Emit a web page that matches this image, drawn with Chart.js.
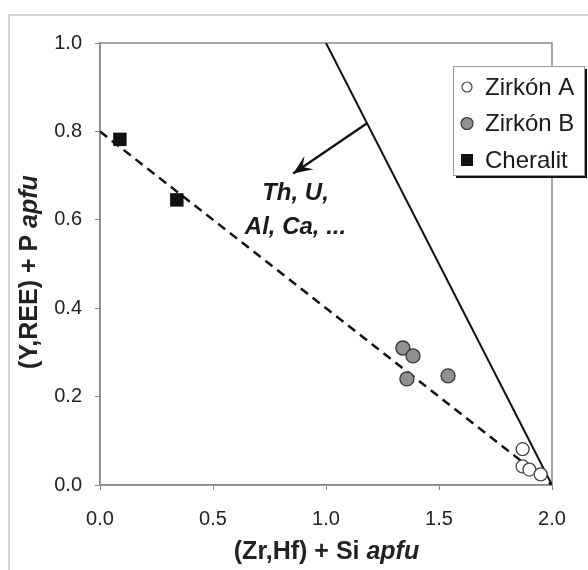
<!DOCTYPE html>
<html><head><meta charset="utf-8">
<script src="https://cdn.jsdelivr.net/npm/chart.js@4/dist/chart.umd.min.js"></script>
<style>html,body{margin:0;padding:0;background:#fff;}#wrap{width:588px;height:570px;}</style>
</head><body><div id="wrap"><canvas id="c" width="588" height="570"></canvas></div>
<script>
// ---- data ----
const zirkonA_x = [1.87, 1.87, 1.90, 1.95];
const zirkonA_y = [0.081, 0.042, 0.035, 0.024];
const zirkonB_x = [1.34, 1.385, 1.358, 1.54];
const zirkonB_y = [0.31, 0.292, 0.24, 0.247];
const cheralit_x = [0.088, 0.34];
const cheralit_y = [0.782, 0.645];
const dashedLine_x = [0.0, 2.0];
const dashedLine_y = [0.8, 0.0];
const solidLine_x = [1.0, 2.0];
const solidLine_y = [1.0, 0.0];
const arrow_x = [1.18, 0.855];
const arrow_y = [0.818, 0.705];
const xTicks = [0.0, 0.5, 1.0, 1.5, 2.0];
const yTicks = [0.0, 0.2, 0.4, 0.6, 0.8, 1.0];
const seriesLabels = ['Zirkón A', 'Zirkón B', 'Cheralit'];
const annotationLines = ['Th, U,', 'Al, Ca, ...'];
const annotation_x = [0.865, 0.865];
const annotation_y = [0.66, 0.582];
const xTitle = ['(Zr,Hf) + Si ', 'apfu'];
const yTitle = ['(Y,REE) + P ', 'apfu'];

const pts = (xs, ys) => xs.map((x, i) => ({x, y: ys[i]}));
const FONT = '"Liberation Sans", Arial, sans-serif';

const framePlugin = {
  id: 'frame',
  beforeDraw(chart) {
    const ctx = chart.ctx;
    ctx.save();
    ctx.fillStyle = '#fff';
    ctx.fillRect(0, 0, chart.width, chart.height);
    ctx.strokeStyle = '#d4d4d4';
    ctx.lineWidth = 2;
    ctx.strokeRect(9, 15, 700, 700);
    ctx.restore();
  },
  beforeDatasetsDraw(chart) {
    const {ctx, chartArea: a} = chart;
    ctx.save();
    ctx.strokeStyle = '#8a8a8a';
    ctx.lineWidth = 1.5;
    ctx.strokeRect(a.left, a.top, a.right - a.left, a.bottom - a.top);
    ctx.restore();
  },
  afterDraw(chart) {
    const ctx = chart.ctx;
    const xs = chart.scales.x, ys = chart.scales.y;
    ctx.save();
    // arrow head
    const x1 = xs.getPixelForValue(arrow_x[0]), y1 = ys.getPixelForValue(arrow_y[0]);
    const x2 = xs.getPixelForValue(arrow_x[1]), y2 = ys.getPixelForValue(arrow_y[1]);
    const ang = Math.atan2(y2 - y1, x2 - x1);
    const L = 19, W = 8;
    ctx.fillStyle = '#111';
    ctx.beginPath();
    ctx.moveTo(x2, y2);
    ctx.lineTo(x2 - L * Math.cos(ang) + W * Math.sin(ang), y2 - L * Math.sin(ang) - W * Math.cos(ang));
    ctx.lineTo(x2 - 0.6 * L * Math.cos(ang), y2 - 0.6 * L * Math.sin(ang));
    ctx.lineTo(x2 - L * Math.cos(ang) - W * Math.sin(ang), y2 - L * Math.sin(ang) + W * Math.cos(ang));
    ctx.closePath();
    ctx.fill();
    // annotation
    ctx.font = 'italic bold 24px ' + FONT;
    ctx.fillStyle = '#1a1a1a';
    ctx.textAlign = 'center';
    ctx.textBaseline = 'middle';
    annotationLines.forEach((t, i) => {
      ctx.fillText(t, xs.getPixelForValue(annotation_x[i]), ys.getPixelForValue(annotation_y[i]));
    });
    // axis titles
    const drawMixed = (parts, cx, cy, size) => {
      ctx.font = 'bold ' + size + 'px ' + FONT;
      const w1 = ctx.measureText(parts[0]).width;
      ctx.font = 'italic bold ' + size + 'px ' + FONT;
      const w2 = ctx.measureText(parts[1]).width;
      const start = cx - (w1 + w2) / 2;
      ctx.textAlign = 'left';
      ctx.textBaseline = 'middle';
      ctx.font = 'bold ' + size + 'px ' + FONT;
      ctx.fillText(parts[0], start, cy);
      ctx.font = 'italic bold ' + size + 'px ' + FONT;
      ctx.fillText(parts[1], start + w1, cy);
    };
    ctx.fillStyle = '#222';
    drawMixed(xTitle, (chart.chartArea.left + chart.chartArea.right) / 2 + 0.5, 552, 25);
    ctx.save();
    ctx.translate(30, 272);
    ctx.rotate(-Math.PI / 2);
    drawMixed(yTitle, 0, 0, 25);
    ctx.restore();
    // legend
    const lx = 453, ly = 66, lw = 131, lh = 109;
    ctx.fillStyle = '#111';
    ctx.fillRect(lx + 3, ly + lh, lw, 3);
    ctx.fillRect(lx + lw, ly + 3, 3, lh);
    ctx.fillStyle = '#fff';
    ctx.fillRect(lx, ly, lw, lh);
    ctx.strokeStyle = '#9a9a9a';
    ctx.lineWidth = 1;
    ctx.strokeRect(lx + 0.5, ly + 0.5, lw, lh);
    const items = chart.data.datasets.filter(d => d.inLegend);
    items.forEach((d, i) => {
      const cy = ly + 21 + i * 36.5;
      const mx = lx + 14;
      ctx.beginPath();
      if (d.pointStyle === 'rect') {
        ctx.fillStyle = d.backgroundColor;
        ctx.fillRect(mx - 6, cy - 6, 12, 12);
      } else {
        ctx.arc(mx, cy, i === 0 ? 5 : 6, 0, Math.PI * 2);
        ctx.fillStyle = d.backgroundColor;
        ctx.fill();
        ctx.strokeStyle = d.borderColor;
        ctx.lineWidth = 1.2;
        ctx.stroke();
      }
      ctx.fillStyle = '#1a1a1a';
      ctx.font = '24px ' + FONT;
      ctx.textAlign = 'left';
      ctx.textBaseline = 'middle';
      ctx.fillText(d.label, lx + 32, cy + 1);
    });
    ctx.restore();
  }
};

new Chart(document.getElementById('c'), {
  type: 'scatter',
  data: {
    datasets: [
      {label: 'dashed', data: pts(dashedLine_x, dashedLine_y), showLine: true, borderColor: '#111', borderWidth: 2.5, borderDash: [9, 6], pointRadius: 0, order: 5},
      {label: 'solid', data: pts(solidLine_x, solidLine_y), showLine: true, borderColor: '#111', borderWidth: 2, pointRadius: 0, order: 5},
      {label: 'arrow', data: pts(arrow_x, arrow_y), showLine: true, borderColor: '#111', borderWidth: 2.4, pointRadius: 0, order: 5},
      {label: seriesLabels[0], inLegend: true, data: pts(zirkonA_x, zirkonA_y), pointStyle: 'circle', pointRadius: 6.5, backgroundColor: '#ffffff', borderColor: '#444', pointBorderWidth: 1.3, order: 1},
      {label: seriesLabels[1], inLegend: true, data: pts(zirkonB_x, zirkonB_y), pointStyle: 'circle', pointRadius: 7, backgroundColor: '#909090', borderColor: '#333', pointBorderWidth: 1.3, order: 1},
      {label: seriesLabels[2], inLegend: true, data: pts(cheralit_x, cheralit_y), pointStyle: 'rect', pointRadius: 9.5, backgroundColor: '#111', borderColor: '#111', pointBorderWidth: 0, order: 1}
    ]
  },
  options: {
    responsive: false,
    animation: false,
    devicePixelRatio: 1,
    layout: {padding: {left: 0, top: 43, right: 36, bottom: 0}},
    plugins: {legend: {display: false}, tooltip: {enabled: false}},
    scales: {
      x: {
        type: 'linear', min: 0, max: 2,
        afterFit: s => { s.height = 85; },
        afterBuildTicks: s => { s.ticks = xTicks.map(v => ({value: v})); },
        ticks: {font: {family: FONT, size: 20}, color: '#222', padding: 17, callback: v => v.toFixed(1), maxRotation: 0},
        grid: {drawOnChartArea: false, drawTicks: true, tickLength: 5, color: '#8a8a8a'},
        border: {color: '#8a8a8a', width: 1.5}
      },
      y: {
        type: 'linear', min: 0, max: 1,
        afterFit: s => { s.width = 100; },
        afterBuildTicks: s => { s.ticks = yTicks.map(v => ({value: v})); },
        ticks: {font: {family: FONT, size: 20}, color: '#222', padding: 13, callback: v => v.toFixed(1)},
        grid: {drawOnChartArea: false, drawTicks: true, tickLength: 5, color: '#8a8a8a'},
        border: {color: '#8a8a8a', width: 1.5}
      }
    }
  },
  plugins: [framePlugin]
});
</script></body></html>
